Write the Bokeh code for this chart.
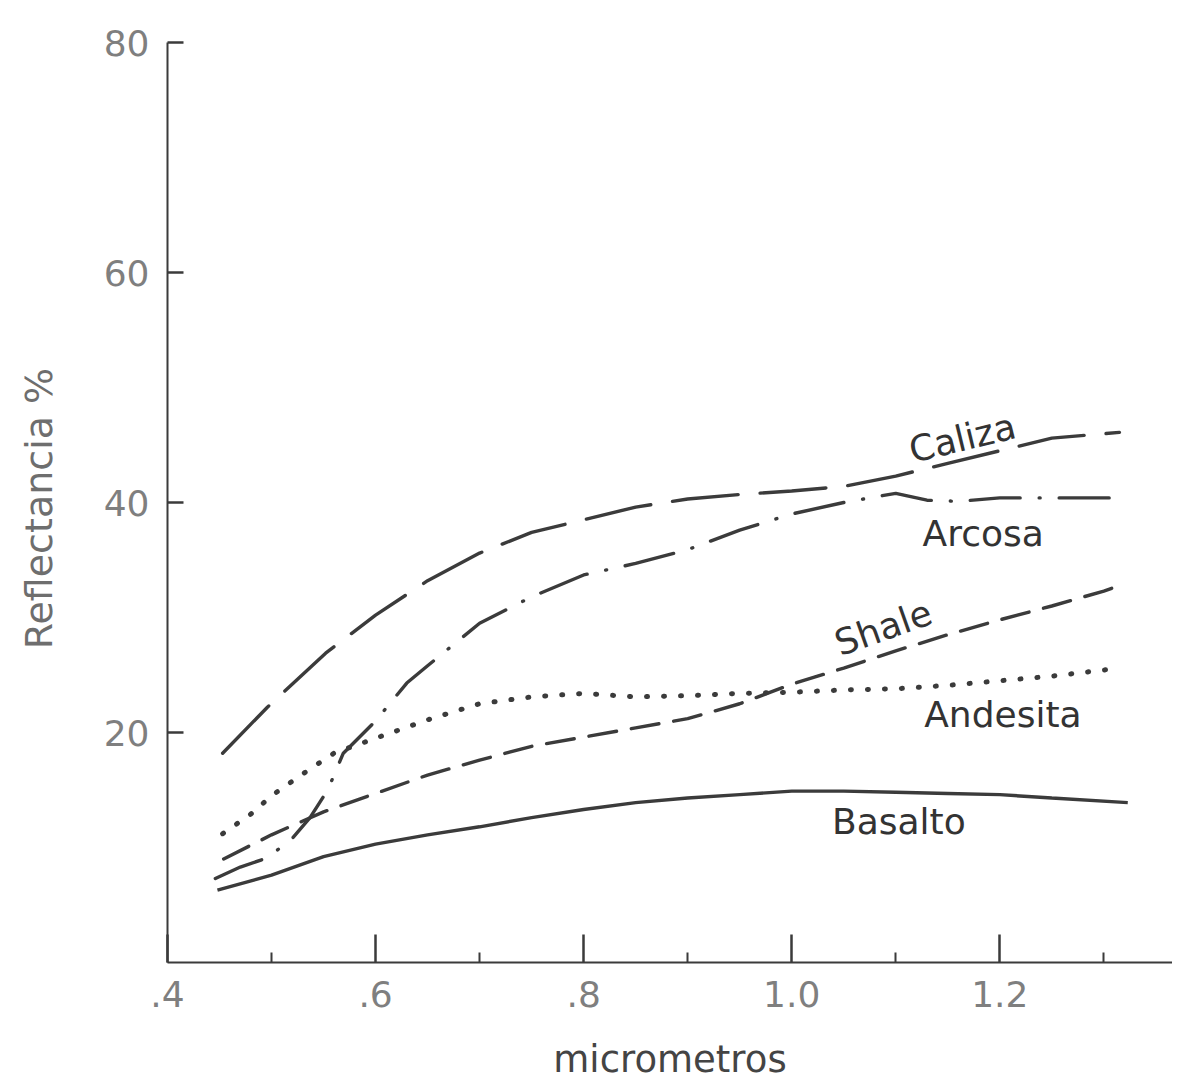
from bokeh.plotting import figure
from bokeh.models import Range1d, FixedTicker, Label
from bokeh.embed import file_html
from bokeh.resources import INLINE

# ---- data (wavelength in micrometres, reflectance in %) ----
caliza_x = [0.453, 0.496, 0.552, 0.60, 0.65, 0.70, 0.75, 0.80, 0.85, 0.90, 0.95, 1.00, 1.05, 1.10, 1.15, 1.20, 1.25, 1.315]
caliza_y = [18.2, 22.2, 26.9, 30.2, 33.2, 35.6, 37.4, 38.5, 39.6, 40.3, 40.7, 41.0, 41.4, 42.3, 43.4, 44.5, 45.6, 46.1]

arcosa_x = [0.446, 0.47, 0.496, 0.52, 0.537, 0.554, 0.569, 0.60, 0.63, 0.65, 0.70, 0.75, 0.80, 0.85, 0.90, 0.95, 1.00, 1.05, 1.10, 1.13, 1.16, 1.20, 1.25, 1.315]
arcosa_y = [7.3, 8.3, 9.1, 10.8, 12.6, 15.0, 18.2, 21.0, 24.3, 25.8, 29.5, 31.8, 33.7, 34.7, 35.9, 37.6, 39.0, 40.0, 40.8, 40.2, 40.1, 40.4, 40.4, 40.4]

shale_x = [0.454, 0.50, 0.55, 0.60, 0.65, 0.70, 0.75, 0.80, 0.85, 0.90, 0.95, 1.00, 1.05, 1.10, 1.15, 1.20, 1.25, 1.30, 1.316]
shale_y = [9.0, 11.1, 13.1, 14.7, 16.3, 17.6, 18.8, 19.6, 20.4, 21.2, 22.5, 24.2, 25.6, 27.1, 28.5, 29.8, 31.0, 32.3, 32.8]

andesita_x = [0.453, 0.48, 0.50, 0.53, 0.56, 0.60, 0.65, 0.70, 0.75, 0.80, 0.85, 0.90, 0.95, 1.00, 1.05, 1.10, 1.15, 1.20, 1.25, 1.316]
andesita_y = [11.2, 12.9, 14.5, 16.4, 18.2, 19.5, 21.1, 22.5, 23.1, 23.4, 23.1, 23.2, 23.4, 23.5, 23.7, 23.8, 24.1, 24.5, 24.9, 25.6]

basalto_x = [0.448, 0.50, 0.55, 0.60, 0.65, 0.70, 0.75, 0.80, 0.85, 0.90, 0.95, 1.00, 1.05, 1.10, 1.15, 1.20, 1.25, 1.323]
basalto_y = [6.3, 7.6, 9.2, 10.3, 11.1, 11.8, 12.6, 13.3, 13.9, 14.3, 14.6, 14.9, 14.9, 14.8, 14.7, 14.6, 14.3, 13.9]

x_ticks = [0.4, 0.6, 0.8, 1.0, 1.2]
x_tick_labels = [".4", ".6", ".8", "1.0", "1.2"]
x_minor_ticks = [0.5, 0.7, 0.9, 1.1, 1.3]
y_ticks = [20, 40, 60, 80]

series_names = ["Caliza", "Arcosa", "Shale", "Andesita", "Basalto"]
# label anchor points (data coords) and rotation (radians)
label_x = [1.164, 1.184, 1.088, 1.203, 1.103]
label_y = [45.6, 37.3, 29.1, 21.6, 12.3]
label_angle = [0.24, 0.0, 0.34, 0.0, 0.0]

LINE = "#3b3b3b"
FONT = "DejaVu Sans"

p = figure(width=1172, height=1086,
           x_range=Range1d(0.4, 1.366), y_range=Range1d(0, 80),
           output_backend="svg", toolbar_location=None,
           min_border_left=167, min_border_right=0,
           min_border_top=42, min_border_bottom=124)
p.outline_line_color = None
p.grid.visible = False
p.background_fill_color = "white"
p.border_fill_color = "white"

# curves
p.line(caliza_x, caliza_y, line_color=LINE, line_width=3.4, line_dash="66 22", line_cap="round")
p.line(arcosa_x, arcosa_y, line_color=LINE, line_width=3.4, line_dash="50 19 1 19", line_cap="round")
p.line(shale_x, shale_y, line_color=LINE, line_width=3.4, line_dash="28 15", line_cap="round")
p.line(andesita_x, andesita_y, line_color=LINE, line_width=5, line_dash="1 16", line_cap="round")
p.line(basalto_x, basalto_y, line_color=LINE, line_width=3.4)

for name, lx, ly, ang in zip(series_names, label_x, label_y, label_angle):
    p.add_layout(Label(x=lx, y=ly, text=name, angle=ang, text_align="center",
                       text_baseline="middle", text_font=FONT, text_font_size="36px",
                       text_color="#333333"))

# x axis
xa = p.xaxis[0]
xa.ticker = FixedTicker(ticks=x_ticks, minor_ticks=x_minor_ticks)
xa.major_label_overrides = dict(zip(x_ticks, x_tick_labels))
xa.axis_line_color = LINE
xa.axis_line_width = 2
xa.major_tick_line_color = LINE
xa.major_tick_line_width = 2.5
xa.major_tick_in = 28
xa.major_tick_out = 0
xa.minor_tick_line_color = LINE
xa.minor_tick_line_width = 2
xa.minor_tick_in = 10
xa.minor_tick_out = 0
xa.major_label_standoff = 18
xa.major_label_text_font = FONT
xa.major_label_text_font_size = "36px"
xa.major_label_text_color = "#7f7f7f"
xa.axis_label = "micrometros"
xa.axis_label_text_font = FONT
xa.axis_label_text_font_size = "37px"
xa.axis_label_text_font_style = "normal"
xa.axis_label_text_color = "#444444"
xa.axis_label_standoff = 28

# y axis
ya = p.yaxis[0]
ya.ticker = FixedTicker(ticks=y_ticks, minor_ticks=[])
ya.axis_line_color = LINE
ya.axis_line_width = 2
ya.major_tick_line_color = LINE
ya.major_tick_line_width = 2.5
ya.major_tick_in = 16
ya.major_tick_out = 0
ya.minor_tick_line_color = None
ya.major_label_standoff = 18
ya.major_label_text_font = FONT
ya.major_label_text_font_size = "36px"
ya.major_label_text_color = "#7f7f7f"
ya.axis_label = "Reflectancia  %"
ya.axis_label_text_font = FONT
ya.axis_label_text_font_size = "38px"
ya.axis_label_text_font_style = "normal"
ya.axis_label_text_color = "#6e6e6e"
ya.axis_label_standoff = 40

open("out.html", "w").write(file_html(p, INLINE))
